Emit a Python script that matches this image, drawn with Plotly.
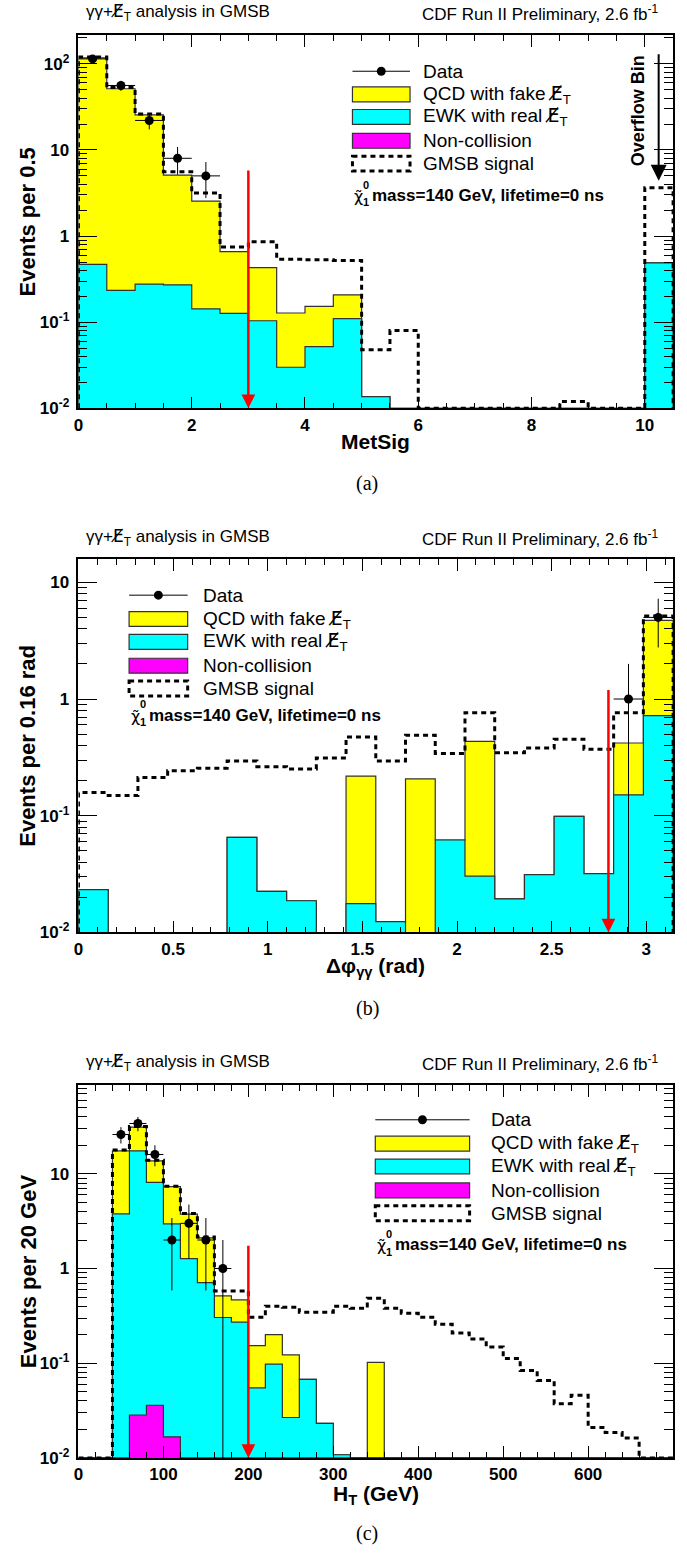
import numpy as np
import plotly.graph_objects as go

W, H = 687, 1562
SANS = "Liberation Sans, Arial, Helvetica, sans-serif"
SERIF = "Liberation Serif, DejaVu Serif, serif"

YELLOW = "#ffff00"
CYAN = "#00ffff"
MAGENTA = "#ff00ff"
EDGE = "#333333"
METSLASH = "<span style=\"font-family:'DejaVu Sans'\">E\u0338</span><sub>T</sub>"

# ---------------- (a) MetSig : 0.5 wide bins, the last one is the overflow bin
metsig_lo, metsig_hi, metsig_nbins = 0.0, 10.5, 21
metsig_data = [114, 56, 22, 8, 5, 0, 0, 0, 0, 0, 0, 0, 0, 0, 0, 0, 0, 0, 0, 0, 0]
metsig_qcd = [116.5, 51.1, 25.2, 4.83, 2.41, 0.533, 0.326, 0.098, 0.101, 0.098,
              0, 0, 0, 0, 0, 0, 0, 0, 0, 0, 0]
metsig_ewk = [0.47, 0.234, 0.277, 0.272, 0.143, 0.127, 0.104, 0.030, 0.052, 0.110,
              0.0137, 0, 0, 0, 0, 0, 0, 0, 0, 0, 0.49]
metsig_noncoll = [0] * 21
metsig_gmsb = [120, 53, 26.2, 5.6, 3.16, 0.745, 0.86, 0.54, 0.53, 0.52,
               0.048, 0.080, 0, 0, 0, 0, 0, 0.012, 0, 0, 3.64]
metsig_cut = 3.0
metsig_cut_top = 6.0
metsig_xticks = [0, 2, 4, 6, 8, 10]

# ---------------- (b) delta phi between the photons : pi/20 wide bins
dphi_lo, dphi_hi, dphi_nbins = 0.0, np.pi, 20
dphi_data = [0, 0, 0, 0, 0, 0, 0, 0, 0, 0, 0, 0, 0, 0, 0, 0, 0, 0, 1, 5]
dphi_qcd = [0, 0, 0, 0, 0, 0, 0, 0, 0, 0.201, 0, 0.207, 0, 0.403, 0, 0, 0, 0, 0.269, 4.0]
dphi_ewk = [0.0233, 0, 0, 0, 0, 0.0653, 0.0225, 0.0187, 0, 0.0177, 0.0124, 0, 0.062,
            0.0304, 0.0194, 0.0313, 0.0987, 0.032, 0.151, 0.72]
dphi_noncoll = [0] * 20
dphi_gmsb = [0.158, 0.149, 0.213, 0.243, 0.255, 0.294, 0.263, 0.251, 0.313, 0.473,
             0.294, 0.489, 0.342, 0.764, 0.346, 0.381, 0.452, 0.371, 0.764, 5.14]
dphi_cut = 2.8
dphi_cut_top = 1.23
dphi_xticks = [0, 0.5, 1, 1.5, 2, 2.5, 3]

# ---------------- (c) H_T : 20 GeV bins
ht_lo, ht_hi, ht_nbins = 0.0, 700.0, 35
ht_data = [0, 0, 26, 34, 16, 2, 3, 2, 1] + [0] * 26
ht_qcd = [0, 0, 13.7, 13.7, 5.57, 4.37, 2.48, 1.40, 0.209, 0.194, 0.098, 0.102, 0.096,
          0, 0, 0, 0, 0.102] + [0] * 17
ht_ewk = [0, 0, 3.78, 17.47, 8.09, 2.94, 1.27, 0.71, 0.304, 0.272, 0.055, 0.098, 0.0267,
          0.0675, 0.0231, 0.0108] + [0] * 19
ht_noncoll = [0, 0, 0, 0.0284, 0.036, 0.0167] + [0] * 29
ht_gmsb = [0, 0, 17.8, 31.6, 13.9, 7.4, 3.8, 2.15, 0.58, 0.58, 0.306, 0.40, 0.39, 0.345,
           0.345, 0.40, 0.38, 0.484, 0.38, 0.337, 0.306, 0.258, 0.208, 0.18, 0.148, 0.112,
           0.0838, 0.0658, 0.0374, 0.0458, 0.021, 0.0186, 0.0162, 0, 0]
ht_cut = 200.0
ht_cut_top = 1.8
ht_xticks = [0, 100, 200, 300, 400, 500, 600, 700]

legend_labels = ["Data", "QCD with fake " + METSLASH, "EWK with real " + METSLASH,
                 "Non-collision", "GMSB signal"]

# pixel layout of the three frames
FRAME_L, FRAME_R = 74, 673
panels = [
    dict(name="a", top=35.0, bottom=411.0, ylog=(-2, 2.337),
         lo=metsig_lo, hi=metsig_hi, nb=metsig_nbins, data=metsig_data, qcd=metsig_qcd,
         ewk=metsig_ewk, nc=metsig_noncoll, gmsb=metsig_gmsb, cut=metsig_cut,
         cut_top=metsig_cut_top, xticks=metsig_xticks, xtext=[str(v) for v in metsig_xticks],
         xminor=0.5, xtitle="MetSig", ytitle="Events per 0.5", title_dy=33,
         leg=dict(x0=350, x1=408, tx=419, rows=[71.7, 95, 117.7, 141.7, 164.7], chi=(350, 196.7))),
    dict(name="b", top=563.0, bottom=938.5, ylog=(-2, 1.196),
         lo=dphi_lo, hi=dphi_hi, nb=dphi_nbins, data=dphi_data, qcd=dphi_qcd,
         ewk=dphi_ewk, nc=dphi_noncoll, gmsb=dphi_gmsb, cut=dphi_cut,
         cut_top=dphi_cut_top, xticks=dphi_xticks, xtext=["0", "0.5", "1", "1.5", "2", "2.5", "3"],
         xminor=0.1, xtitle="\u0394\u03c6<sub>\u03b3\u03b3</sub> (rad)", ytitle="Events per 0.16 rad",
         title_dy=35,
         leg=dict(x0=125, x1=184, tx=197, rows=[599, 623, 646, 670, 693], chi=(125, 720))),
    dict(name="c", top=1091.7, bottom=1467.3, ylog=(-2, 1.941),
         lo=ht_lo, hi=ht_hi, nb=ht_nbins, data=ht_data, qcd=ht_qcd,
         ewk=ht_ewk, nc=ht_noncoll, gmsb=ht_gmsb, cut=ht_cut,
         cut_top=ht_cut_top, xticks=ht_xticks, xtext=[str(v) for v in ht_xticks],
         xminor=20, xtitle="H<sub>T</sub> (GeV)", ytitle="Events per 20 GeV", title_dy=37,
         leg=dict(x0=373, x1=468, tx=488, rows=[1127, 1151, 1174, 1198, 1221], chi=(373, 1253))),
]


def px(x, y):
    return x / W, 1 - y / H


def step_path(edges, vals, floor):
    v = np.maximum(np.asarray(vals, dtype=float), floor)
    xs, ys = [edges[0]], [floor]
    for i in range(len(v)):
        xs += [edges[i], edges[i + 1]]
        ys += [v[i], v[i]]
    xs.append(edges[-1])
    ys.append(floor)
    return xs, ys


def log_minor(lo, hi):
    out = []
    for e in range(int(np.floor(lo)), int(np.ceil(hi)) + 1):
        for k in range(2, 10):
            val = k * 10.0 ** e
            if 10 ** lo < val < 10 ** hi:
                out.append(val)
    return out


fig = go.Figure()
shapes, annotations = [], []
layout_axes = {}

for i, p in enumerate(panels):
    n = i + 1
    xa = "x" if n == 1 else f"x{n}"
    ya = "y" if n == 1 else f"y{n}"
    floor = 10 ** p["ylog"][0]
    edges = np.linspace(p["lo"], p["hi"], p["nb"] + 1)
    centers = 0.5 * (edges[:-1] + edges[1:])
    half = 0.5 * (edges[1:] - edges[:-1])

    nc = np.asarray(p["nc"], float)
    ewk = np.asarray(p["ewk"], float)
    qcd = np.asarray(p["qcd"], float)
    stack = [(qcd + ewk + nc, YELLOW), (ewk + nc, CYAN), (nc, MAGENTA)]
    for vals, col in stack:
        if not np.any(vals > 0):
            continue
        xs, ys = step_path(edges, vals, floor)
        fig.add_trace(go.Scatter(x=xs, y=ys, xaxis=xa, yaxis=ya, mode="lines", fill="toself",
                                 fillcolor=col, line=dict(color=EDGE, width=1.2),
                                 hoverinfo="skip", showlegend=False))

    xs, ys = step_path(edges, p["gmsb"], floor)
    fig.add_trace(go.Scatter(x=xs, y=ys, xaxis=xa, yaxis=ya, mode="lines",
                             line=dict(color="black", width=3, dash="5px,4px"),
                             hoverinfo="skip", showlegend=False))

    d = np.asarray(p["data"], float)
    m = d > 0
    fig.add_trace(go.Scatter(x=centers[m], y=d[m], xaxis=xa, yaxis=ya, mode="markers",
                             marker=dict(color="black", size=9),
                             error_y=dict(type="data", array=np.sqrt(d[m]), color="black",
                                          thickness=1, width=0),
                             error_x=dict(type="data", array=half[m], color="black",
                                          thickness=1, width=0),
                             hoverinfo="skip", showlegend=False))

    ylo, yhi = p["ylog"]
    yticks = [10.0 ** e for e in range(int(ylo), int(np.floor(yhi)) + 1)]
    ytext = []
    for e in range(int(ylo), int(np.floor(yhi)) + 1):
        if e == 0:
            ytext.append("1")
        elif e == 1:
            ytext.append("10")
        else:
            ytext.append(f"10<sup>{e}</sup>")

    tickfont = dict(family=SANS, size=17, color="black", weight="bold")
    layout_axes["xaxis" if n == 1 else f"xaxis{n}"] = dict(
        domain=[FRAME_L / W, FRAME_R / W], range=[p["lo"], p["hi"]], anchor=ya,
        showline=True, linecolor="black", linewidth=1.6, mirror="allticks",
        ticks="inside", ticklen=12, tickwidth=1, tickcolor="black",
        showgrid=False, zeroline=False, tickfont=tickfont, ticklabelstandoff=0,
        tickmode="array", tickvals=p["xticks"], ticktext=p["xtext"],
        minor=dict(ticks="inside", ticklen=6, tickwidth=1, tickcolor="black", showgrid=False,
                   tickmode="array",
                   tickvals=list(np.arange(p["lo"], p["hi"] + 1e-9, p["xminor"]))),
    )
    layout_axes["yaxis" if n == 1 else f"yaxis{n}"] = dict(
        domain=[1 - p["bottom"] / H, 1 - p["top"] / H], type="log", range=[ylo, yhi], anchor=xa,
        showline=True, linecolor="black", linewidth=1.6, mirror="allticks",
        ticks="inside", ticklen=19, tickwidth=1, tickcolor="black",
        showgrid=False, zeroline=False, tickfont=tickfont, ticklabelstandoff=4,
        tickmode="array", tickvals=yticks, ticktext=ytext,
        minor=dict(ticks="inside", ticklen=9, tickwidth=1, tickcolor="black", showgrid=False,
                   tickmode="array", tickvals=log_minor(ylo, yhi)),
    )

    # selection cut arrow
    annotations.append(dict(x=p["cut"], y=ylo, xref=xa, yref=ya, ax=p["cut"],
                            ay=np.log10(p["cut_top"]), axref=xa, ayref=ya, text="",
                            showarrow=True, arrowhead=2, arrowsize=1.1, arrowwidth=2.5,
                            arrowcolor="#ff0000"))

    # headers
    hy = p["top"] - 22
    annotations.append(dict(x=px(80, 0)[0], y=px(0, hy)[1], xref="paper", yref="paper",
                            text="\u03b3\u03b3+" + METSLASH + " analysis in GMSB", showarrow=False,
                            xanchor="left", yanchor="middle",
                            font=dict(family=SANS, size=17, color="black")))
    annotations.append(dict(x=px(660, 0)[0], y=px(0, hy)[1], xref="paper", yref="paper",
                            text="CDF Run II Preliminary, 2.6 fb<sup>-1</sup>", showarrow=False,
                            xanchor="right", yanchor="middle",
                            font=dict(family=SANS, size=17, color="black")))

    # axis titles
    annotations.append(dict(x=px((FRAME_L + FRAME_R) / 2, 0)[0],
                            y=px(0, p["bottom"] + p["title_dy"])[1], xref="paper", yref="paper",
                            text=p["xtitle"], showarrow=False, xanchor="center", yanchor="middle",
                            font=dict(family=SANS, size=21, color="black", weight="bold")))
    annotations.append(dict(x=px(23, 0)[0], y=px(0, (p["top"] + p["bottom"]) / 2)[1],
                            xref="paper", yref="paper", text=p["ytitle"], showarrow=False,
                            textangle=-90, xanchor="center", yanchor="middle",
                            font=dict(family=SANS, size=22, color="black", weight="bold")))
    annotations.append(dict(x=px(365, 0)[0], y=px(0, p["bottom"] + 76)[1], xref="paper",
                            yref="paper", text=f"({p['name']})", showarrow=False,
                            xanchor="center", yanchor="middle",
                            font=dict(family=SERIF, size=20, color="black")))

    # legend block
    lg = p["leg"]
    x0, x1 = lg["x0"], lg["x1"]
    for k, (lab, yc) in enumerate(zip(legend_labels, lg["rows"])):
        annotations.append(dict(x=px(lg["tx"], 0)[0], y=px(0, yc)[1], xref="paper", yref="paper",
                                text=lab, showarrow=False, xanchor="left", yanchor="middle",
                                font=dict(family=SANS, size=19, color="black")))
        a0 = px(x0, yc - 7.5)
        a1 = px(x1, yc + 7.5)
        if k == 0:
            l0, l1 = px(x0, yc), px(x1, yc)
            shapes.append(dict(type="line", xref="paper", yref="paper", x0=l0[0], y0=l0[1],
                               x1=l1[0], y1=l1[1], line=dict(color="black", width=1)))
            c0, c1 = px((x0 + x1) / 2 - 4.5, yc - 4.5), px((x0 + x1) / 2 + 4.5, yc + 4.5)
            shapes.append(dict(type="circle", xref="paper", yref="paper", x0=c0[0], y0=c0[1],
                               x1=c1[0], y1=c1[1], fillcolor="black", line=dict(width=0)))
        elif k < 4:
            col = [YELLOW, CYAN, MAGENTA][k - 1]
            shapes.append(dict(type="rect", xref="paper", yref="paper", x0=a0[0], y0=a0[1],
                               x1=a1[0], y1=a1[1], fillcolor=col,
                               line=dict(color=EDGE, width=1.2)))
        else:
            shapes.append(dict(type="rect", xref="paper", yref="paper", x0=a0[0], y0=a0[1],
                               x1=a1[0], y1=a1[1], fillcolor="rgba(0,0,0,0)",
                               line=dict(color="black", width=3, dash="5px,4px")))
    cx, cy = lg["chi"]
    annotations.append(dict(x=px(cx, 0)[0], y=px(0, cy + 1)[1], xref="paper", yref="paper",
                            text="\u03c7\u0303", showarrow=False, xanchor="left", yanchor="middle",
                            font=dict(family="DejaVu Sans", size=16, color="black")))
    annotations.append(dict(x=px(cx + 9, 0)[0], y=px(0, cy - 11)[1], xref="paper", yref="paper",
                            text="0", showarrow=False, xanchor="left", yanchor="middle",
                            font=dict(family=SANS, size=11, color="black", weight="bold")))
    annotations.append(dict(x=px(cx + 9, 0)[0], y=px(0, cy + 7)[1], xref="paper", yref="paper",
                            text="1", showarrow=False, xanchor="left", yanchor="middle",
                            font=dict(family=SANS, size=11, color="black", weight="bold")))
    annotations.append(dict(x=px(cx + 18, 0)[0], y=px(0, cy)[1], xref="paper", yref="paper",
                            text="mass=140 GeV, lifetime=0 ns", showarrow=False,
                            xanchor="left", yanchor="middle",
                            font=dict(family=SANS, size=17, color="black", weight="bold")))

# overflow marker in the MetSig panel
ovf_x = 10.245
annotations.append(dict(x=ovf_x, y=np.log10(4.4), xref="x", yref="y", ax=ovf_x,
                        ay=np.log10(134.0), axref="x", ayref="y", text="", showarrow=True,
                        arrowhead=2, arrowsize=1.6, arrowwidth=2, arrowcolor="black"))
annotations.append(dict(x=px(638, 0)[0], y=px(0, 111.7)[1], xref="paper", yref="paper",
                        text="Overflow Bin", showarrow=False, textangle=-90,
                        xanchor="center", yanchor="middle",
                        font=dict(family=SANS, size=18, color="black", weight="bold")))

fig.update_layout(
    width=W, height=H, margin=dict(l=0, r=0, t=0, b=0),
    paper_bgcolor="white", plot_bgcolor="white", showlegend=False,
    shapes=shapes, annotations=annotations, **layout_axes,
)

fig.write_html("out.html", config={"displayModeBar": False})
